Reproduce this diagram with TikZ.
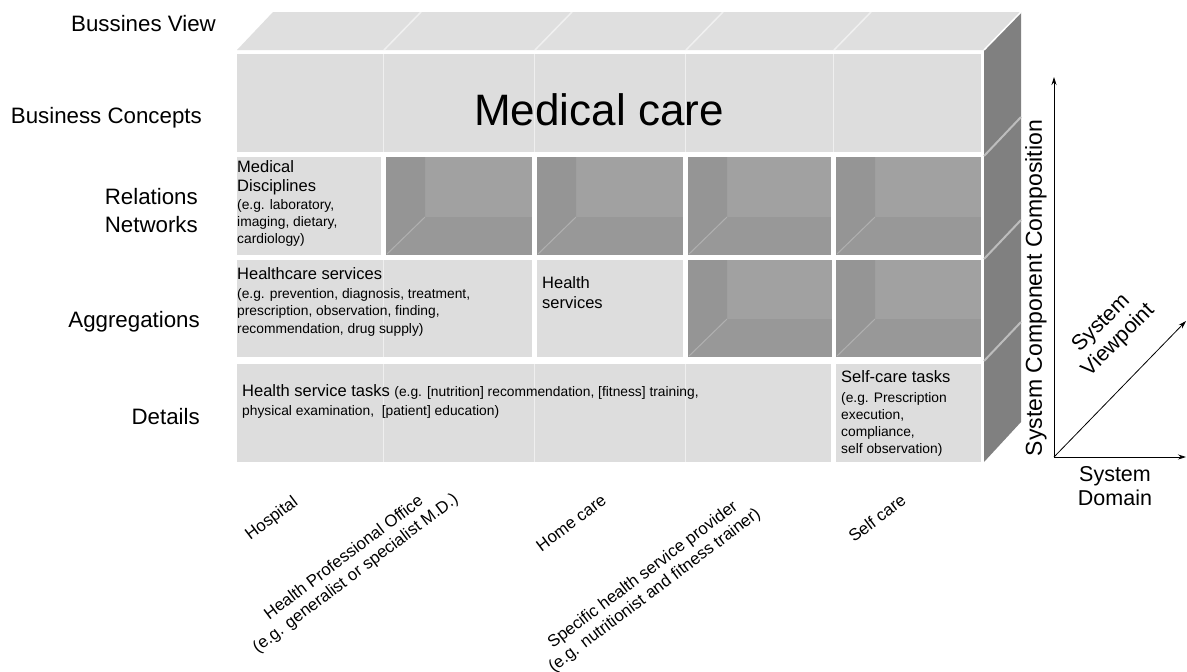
\documentclass[tikz,border=0pt]{standalone}
\usepackage{fontspec}
\setmainfont{Liberation Sans}
\usetikzlibrary{arrows.meta}
\definecolor{lightc}{gray}{0.865}
\definecolor{topc}{gray}{0.875}
\definecolor{darkc}{gray}{0.595}
\definecolor{darkback}{gray}{0.63}
\definecolor{darkleft}{gray}{0.585}
\definecolor{sidec}{gray}{0.5}
\definecolor{sideline}{gray}{0.74}
\newcommand\mydarkcell[4]{%
  \fill[darkc] (#1,#2) rectangle (#3,#4);
  \fill[darkback] (#1+39,#2) rectangle (#3,#4-38);
  \fill[darkleft] (#1,#2) -- (#1+39,#2) -- (#1+39,#4-38) -- (#1,#4) -- cycle;
  \draw[white, opacity=.25, line width=1pt] (#1+1,#4-1) -- (#1+39,#4-38);
}
\begin{document}
\begin{tikzpicture}[x=1pt,y=-1pt,
  rowlab/.style={font=\fontsize{22.3}{26}\selectfont, anchor=base east, inner sep=0pt},
  head/.style={font=\fontsize{16.5}{20}\selectfont, anchor=base west, inner sep=0pt},
  subtxt/.style={font=\fontsize{13.8}{17}\selectfont, anchor=base west, inner sep=0pt},
  collab/.style={font=\fontsize{16.8}{19.5}\selectfont, rotate=37, align=center, inner sep=0pt},
  faint/.style={white, opacity=.55, line width=1.5pt},
  axis/.style={black, line width=0.8pt, -{Stealth[length=8pt,width=5pt]}}]
\useasboundingbox (0,0) rectangle (1187,672);
\fill[white] (0,0) rectangle (1187,672);

% top face
\fill[topc] (237,50) -- (273,12) -- (1021,12) -- (984,50) -- cycle;
\foreach \cx in {384,535,686,834} \draw[faint] (\cx,50) -- (\cx+37,12);
% right side face
\fill[sidec] (984,50) -- (1021,12) -- (1021,422) -- (984,462) -- cycle;
\draw[white, line width=1.5pt] (984,50) -- (1021,12);
\foreach \ry in {156,259,361} \draw[sideline, line width=2pt] (984,\ry) -- (1021,\ry-39);

% row 1
\fill[lightc] (237,54) rectangle (981,152);
\foreach \cx in {383.5,534.5,685.5,833.5} \draw[faint] (\cx,54) -- (\cx,152);
% row 2
\fill[lightc] (237,157) rectangle (381,255);
\mydarkcell{386}{157}{532}{255}
\mydarkcell{537}{157}{683}{255}
\mydarkcell{688}{157}{831}{255}
\mydarkcell{836}{157}{981}{255}
% row 3
\fill[lightc] (237,260) rectangle (532,357);
\draw[faint] (383.5,260) -- (383.5,357);
\fill[lightc] (537,260) rectangle (683,357);
\mydarkcell{688}{260}{832}{357}
\mydarkcell{836}{260}{981}{357}
% row 4
\fill[lightc] (237,364) rectangle (831,462);
\foreach \cx in {383.5,534.5,685.5} \draw[faint] (\cx,364) -- (\cx,462);
\fill[lightc] (836,364) rectangle (981,462);

% row labels
\node[rowlab] (bv) at (216,31) {Bussines View};
\node[rowlab] (bc) at (202,123) {Business Concepts};
\node[rowlab] (rel) at (198,204) {Relations};
\node[rowlab] (net) at (198,232) {Networks};
\node[rowlab] (agg) at (200,327) {Aggregations};
\node[rowlab] (det) at (200,424) {Details};

% big title
\node[font=\fontsize{44}{50}\selectfont, anchor=base, inner sep=0pt] (mc) at (599,125) {Medical care};

% cell texts
\node[head] (md1) at (237,172) {Medical};
\node[head] (md2) at (237,191) {Disciplines};
\node[subtxt] (md3) at (237,209) {(e.g. laboratory,};
\node[subtxt] (md4) at (237,226) {imaging, dietary,};
\node[subtxt] (md5) at (237,243) {cardiology)};

\node[head] (hc1) at (237,279) {Healthcare services};
\node[subtxt] (hc2) at (237,298) {(e.g. prevention, diagnosis, treatment,};
\node[subtxt] (hc3) at (237,315.5) {prescription, observation, finding,};
\node[subtxt] (hc4) at (237,333) {recommendation, drug supply)};

\node[head] (hs1) at (542,288) {Health};
\node[head] (hs2) at (542,308) {services};

\node[head] (ht1) at (242,396) {Health service tasks {\fontsize{13.8}{17}\selectfont (e.g. [nutrition] recommendation, [fitness] training,}};
\node[subtxt] (ht2) at (242,415) {physical examination,\ \ [patient] education)};

\node[head] (sc1) at (841,382) {Self-care tasks};
\node[subtxt] (sc2) at (841,402) {(e.g. Prescription};
\node[subtxt] (sc3) at (841,419) {execution,};
\node[subtxt] (sc4) at (841,436) {compliance,};
\node[subtxt] (sc5) at (841,453) {self observation)};

% column labels
\node[collab] (hosp) at (272,519) {Hospital};
\node[collab] (hpo) at (350,566) {Health Professional Office\\(e.g. generalist or specialist M.D.)};
\node[collab] (home) at (571,523) {Home care};
\node[collab] (shsp) at (649,583) {Specific health service provider\\(e.g. nutritionist and fitness trainer)};
\node[collab] (self) at (877,518) {Self care};

% axes
\coordinate (O) at (1054,457);
\coordinate (Ytip) at (1054,77);
\coordinate (Xtip) at (1186,457);
\coordinate (Ztip) at (1186,321);
\draw[axis] (O) -- (Ytip);
\draw[axis] (O) -- (Xtip);
\draw[axis] (O) -- (Ztip);
\node[font=\fontsize{23}{27}\selectfont, rotate=90, inner sep=0pt] (scc) at (1036,288) {System Component Composition};
\node[font=\fontsize{21.5}{24.5}\selectfont, align=center, inner sep=0pt] (sd) at (1115,486) {System\\Domain};
\node[font=\fontsize{21.5}{24}\selectfont, align=center, rotate=45, inner sep=0pt] (sv) at (1110,332) {System\\Viewpoint};
\end{tikzpicture}
\end{document}
